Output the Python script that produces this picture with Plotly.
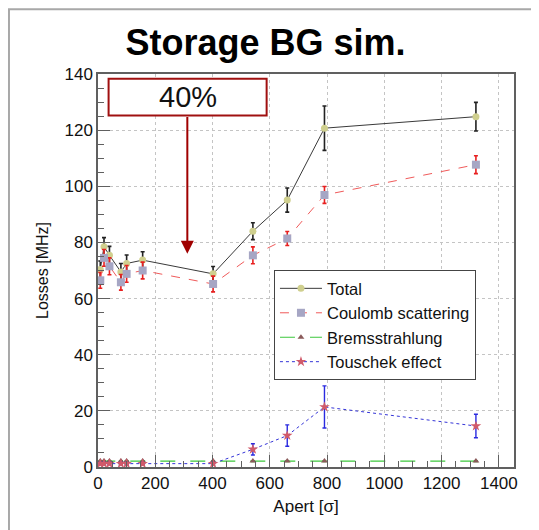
import plotly.graph_objects as go

# ---- data ----
apert = [8, 21, 40, 80, 100, 156, 402, 541, 661, 791, 1320]
total = [70.4, 78.5, 75.4, 69.5, 72.5, 73.7, 68.8, 84.0, 95.1, 120.7, 124.8]
total_err = [3.0, 3.2, 3.2, 3.0, 3.0, 3.0, 2.6, 3.0, 4.3, 7.9, 5.1]
coulomb = [66.5, 74.5, 71.5, 65.8, 68.8, 70.0, 65.2, 75.4, 81.4, 96.9, 107.7]
coulomb_err = [2.8, 3.0, 3.0, 2.8, 3.0, 3.0, 2.8, 3.0, 2.5, 3.0, 3.2]
brems = [2.1, 2.1, 2.1, 2.1, 2.1, 2.1, 2.1, 2.1, 2.1, 2.1, 2.1]
brems_err = [0.2, 0.2, 0.2, 0.2, 0.2, 0.2, 0.2, 0.2, 0.2, 0.2, 0.2]
touschek = [1.2, 1.2, 1.2, 1.2, 1.2, 1.2, 1.2, 6.3, 11.2, 21.4, 14.6]
touschek_err = [0.4, 0.4, 0.4, 0.4, 0.4, 0.4, 0.4, 2.0, 3.8, 7.5, 4.2]

x_ticks = [0, 200, 400, 600, 800, 1000, 1200, 1400]
y_ticks = [0, 20, 40, 60, 80, 100, 120, 140]

FONT = "Liberation Sans, Arial, Helvetica, sans-serif"

fig = go.Figure()

fig.add_trace(go.Scatter(
    x=apert, y=total, name="Total", mode="lines+markers",
    line=dict(color="#3a3a3a", width=1),
    marker=dict(symbol="circle", size=7, color="#cfcf8e"),
    error_y=dict(type="data", array=total_err, color="#222222", thickness=1.6, width=2),
))
fig.add_trace(go.Scatter(
    x=apert, y=coulomb, name="Coulomb scattering", mode="lines+markers",
    line=dict(color="#f05a5a", width=1, dash="dash"),
    marker=dict(symbol="square", size=8, color="#a6a6c4"),
    error_y=dict(type="data", array=coulomb_err, color="#e82020", thickness=1.6, width=2),
))
fig.add_trace(go.Scatter(
    x=apert, y=brems, name="Bremsstrahlung", mode="lines+markers",
    line=dict(color="#3cc83c", width=1.2, dash="longdash"),
    marker=dict(symbol="triangle-up", size=6, color="#8a5a5a"),
    error_y=dict(type="data", array=brems_err, color="#22bb22", thickness=1.2, width=2),
))
fig.add_trace(go.Scatter(
    x=apert, y=touschek, name="Touschek effect", mode="lines+markers",
    line=dict(color="#3535d8", width=1, dash="dot"),
    marker=dict(symbol="star", size=8, color="#d05a6a"),
    error_y=dict(type="data", array=touschek_err, color="#2a2ae0", thickness=1.4, width=2),
))

axis_common = dict(
    showline=True, linecolor="#606060", linewidth=1.5, mirror=True,
    ticks="inside", tickcolor="#606060", tickwidth=1.3, ticklen=12,
    showgrid=True, gridcolor="#c4c4c4", griddash="dot", gridwidth=1,
    zeroline=False, automargin=False,
    tickfont=dict(family=FONT, size=17, color="#111111"),
)

fig.update_xaxes(
    range=[0, 1453], tickvals=x_ticks, ticktext=[str(v) for v in x_ticks],
    minor=dict(ticks="inside", dtick=50, ticklen=6, tickcolor="#606060", showgrid=False),
    title=dict(text="Apert [σ]", font=dict(family=FONT, size=17, color="#111111"), standoff=8),
    **axis_common,
)
fig.update_yaxes(
    range=[0, 140], tickvals=y_ticks, ticktext=[str(v) for v in y_ticks],
    minor=dict(ticks="inside", dtick=5, ticklen=6, tickcolor="#606060", showgrid=False),
    title=dict(text="Losses [MHz]", font=dict(family=FONT, size=16, color="#111111"), standoff=12),
    **axis_common,
)

# outer canvas frame (ROOT-style pad border)
fig.add_shape(type="rect", xref="paper", yref="paper", x0=-0.214, x1=1.2, y0=-0.3, y1=1.165,
              fillcolor="rgba(0,0,0,0)", line=dict(color="#a8a8a8", width=2), layer="below")

# "40%" box and arrow
BOX_X0, BOX_X1, BOX_Y0, BOX_Y1 = 37, 589, 125.2, 138.3
ARROW_X, ARROW_TIP_Y = 312, 76.0
fig.add_shape(type="rect", xref="x", yref="y", x0=BOX_X0, x1=BOX_X1, y0=BOX_Y0, y1=BOX_Y1,
              fillcolor="white", line=dict(color="#a01010", width=2))
fig.add_annotation(x=(BOX_X0 + BOX_X1) / 2, y=(BOX_Y0 + BOX_Y1) / 2, xref="x", yref="y",
                   text="40%", showarrow=False,
                   font=dict(family=FONT, size=29, color="#111111"))
fig.add_annotation(x=ARROW_X, y=ARROW_TIP_Y, xref="x", yref="y",
                   ax=ARROW_X, ay=BOX_Y0, axref="x", ayref="y",
                   text="", showarrow=True, arrowhead=2, arrowsize=1.3, arrowwidth=2,
                   arrowcolor="#a00000")

fig.update_layout(
    width=531, height=522,
    margin=dict(l=90, r=25, t=66, b=63, autoexpand=False),
    paper_bgcolor="white", plot_bgcolor="white",
    font=dict(family=FONT, color="#111111"),
    title=dict(text="<b>Storage BG sim.</b>", x=0.485, xanchor="center",
               y=0.935, yanchor="middle",
               font=dict(family=FONT, size=36, color="#000000")),
    legend=dict(x=0.423, y=0.501, xanchor="left", yanchor="top",
                bgcolor="white", bordercolor="#444444", borderwidth=1,
                font=dict(family=FONT, size=16.5, color="#111111"),
                itemwidth=42, tracegroupgap=0),
    showlegend=True,
)

fig.write_html("out.html")
